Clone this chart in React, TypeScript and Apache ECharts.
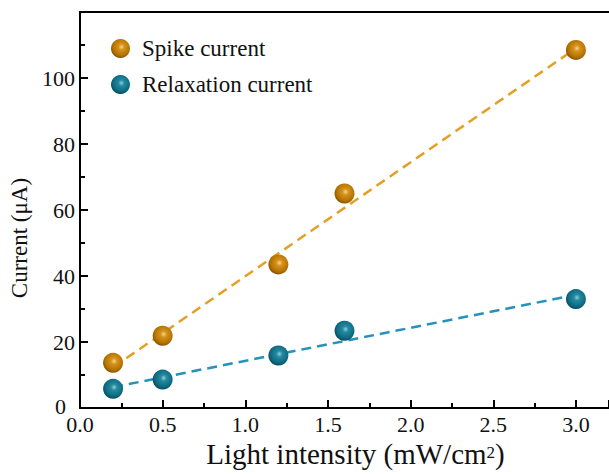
import React, { useEffect, useRef } from "react";
import * as echarts from "echarts";

const xValues = [0.2, 0.5, 1.2, 1.6, 3.0];
const spikeCurrent = [13.7, 21.9, 43.5, 65.0, 108.5];
const relaxationCurrent = [5.8, 8.6, 15.9, 23.4, 33.0];
const spikeFit = [
  [0.2, 12.3],
  [3.0, 109.0],
];
const relaxationFit = [
  [0.2, 6.3],
  [3.0, 34.3],
];
const xTicks = ["0.0", "0.5", "1.0", "1.5", "2.0", "2.5", "3.0"];

const FONT = "Liberation Serif";

const sphere = (hi: string, mid: string, base: string, edge: string) => ({
  type: "radial",
  x: 0.55,
  y: 0.42,
  r: 0.62,
  colorStops: [
    { offset: 0, color: hi },
    { offset: 0.25, color: mid },
    { offset: 0.7, color: base },
    { offset: 1, color: edge },
  ],
});

export default function App() {
  const ref = useRef<HTMLDivElement>(null);
  useEffect(() => {
    if (!ref.current) return;
    const chart = echarts.init(ref.current, null, { renderer: "svg" });
    const orange = sphere("#f6d58e", "#d6921c", "#b57300", "#7d4c00");
    const teal = sphere("#8fcfde", "#24899f", "#0d6c82", "#064454");
    const axisCommon = {
      type: "value" as const,
      axisLine: { show: true, onZero: false, lineStyle: { color: "#000", width: 2 } },
      splitLine: { show: false },
    };
    chart.setOption({
      animation: false,
      backgroundColor: "#fff",
      textStyle: { fontFamily: FONT },
      grid: { left: 80, right: 0, top: 12, bottom: 66 },
      legend: {
        orient: "vertical",
        left: 106,
        top: 32,
        itemGap: 13,
        itemWidth: 19,
        itemHeight: 19,
        icon: "circle",
        data: ["Spike current", "Relaxation current"],
        textStyle: { fontFamily: FONT, fontSize: 23, color: "#111", padding: [0, 0, 0, 7] },
      },
      xAxis: [
        {
          ...axisCommon,
          min: 0,
          max: 3.2,
          interval: 0.5,
          axisTick: { show: true, inside: true, length: 8, lineStyle: { color: "#000", width: 2 } },
          minorTick: { show: true, splitNumber: 2, length: 5, lineStyle: { color: "#000", width: 2 } },
          axisLabel: {
            margin: 5,
            fontFamily: FONT,
            fontSize: 22,
            color: "#111",
            showMaxLabel: false,
            formatter: (v: number) => {
              const s = v.toFixed(1);
              return xTicks.includes(s) ? s : "";
            },
          },
          name: "{a|Light intensity (mW/cm}{s|2}{a|)}",
          nameLocation: "middle",
          nameGap: 30,
          nameTextStyle: {
            padding: [0, 0, 0, 22],
            rich: {
              a: { fontFamily: FONT, fontSize: 29, color: "#111" },
              s: { fontFamily: FONT, fontSize: 17, color: "#111", padding: [0, 0, 4, 0] },
            },
          },
        },
        {
          ...axisCommon,
          position: "top",
          min: 0,
          max: 3.2,
          axisTick: { show: false },
          axisLabel: { show: false },
        },
      ],
      yAxis: {
        ...axisCommon,
        min: 0,
        max: 120,
        interval: 20,
        axisTick: { show: true, inside: true, length: 8, lineStyle: { color: "#000", width: 2 } },
        minorTick: { show: true, splitNumber: 2, length: 5, lineStyle: { color: "#000", width: 2 } },
        axisLabel: {
          margin: 5,
          fontFamily: FONT,
          fontSize: 22,
          color: "#111",
          showMaxLabel: false,
          formatter: (v: number) => (v === 0 ? "{z|0}" : String(v)),
          rich: {
            z: { fontFamily: FONT, fontSize: 22, color: "#111", padding: [0, 9, 3, 0] },
          },
        },
        name: "Current (\u03bcA)",
        nameLocation: "middle",
        nameGap: 37,
        nameTextStyle: {
          fontFamily: FONT,
          fontSize: 23,
          color: "#111",
          padding: [0, 56, 0, 0],
        },
      },
      series: [
        {
          name: "spikeFit",
          type: "line",
          data: spikeFit,
          symbol: "none",
          lineStyle: { color: "#e3a024", width: 2.5, type: [10, 6] },
          z: 1,
        },
        {
          name: "relaxationFit",
          type: "line",
          data: relaxationFit,
          symbol: "none",
          lineStyle: { color: "#2593b8", width: 2.5, type: [10, 6] },
          z: 1,
        },
        {
          name: "Spike current",
          type: "scatter",
          data: xValues.map((x, i) => [x, spikeCurrent[i]]),
          symbolSize: 20,
          itemStyle: { color: orange, opacity: 1 },
          z: 3,
        },
        {
          name: "Relaxation current",
          type: "scatter",
          data: xValues.map((x, i) => [x, relaxationCurrent[i]]),
          symbolSize: 20,
          itemStyle: { color: teal, opacity: 1 },
          z: 3,
        },
      ],
    });
    return () => chart.dispose();
  }, []);
  return <div ref={ref} style={{ width: 609, height: 474, position: "absolute", left: 0, top: 0 }} />;
}
